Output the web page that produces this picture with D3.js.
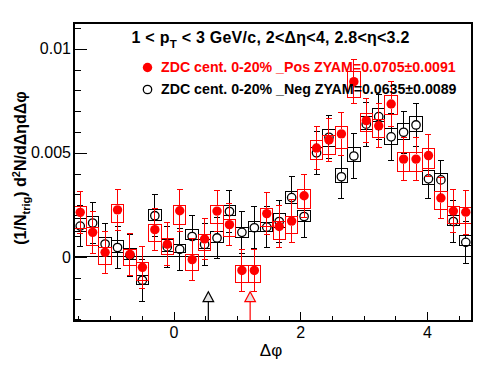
<!DOCTYPE html>
<html>
<head>
<meta charset="utf-8">
<script src="https://cdn.jsdelivr.net/npm/d3@7"></script>
<style>
  body { margin: 0; background: #fff; }
  svg { display: block; font-family: "Liberation Sans", Arial, Helvetica, sans-serif; }
</style>
</head>
<body>
<div id="chart"></div>
<script>
// 1: DATA
// delta-phi bin centres, 32 bins over [-pi/2, 3pi/2]
const dphi = [-1.4726, -1.2763, -1.0799, -0.8836, -0.6872, -0.4909, -0.2945, -0.0982,
              0.0982, 0.2945, 0.4909, 0.6872, 0.8836, 1.0799, 1.2763, 1.4726,
              1.6690, 1.8653, 2.0617, 2.2580, 2.4544, 2.6507, 2.8471, 3.0434,
              3.2398, 3.4361, 3.6325, 3.8288, 4.0252, 4.2215, 4.4179, 4.6142];

// ZDC 0-20% _Pos (red, filled)
const posVal = [0.00214, 0.00118, 0.00022, 0.00226, 0.00012, -0.00050, 0.00131, 0.00061,
                0.00222, -0.00013, 0.00086, 0.00220, 0.00155, -0.00065, -0.00065, 0.00208,
                0.00146, 0.00172, 0.00294, 0.00523, 0.00562, 0.00591, 0.00842, 0.00655,
                0.00630, 0.00735, 0.00470, 0.00470, 0.00487, 0.00283, 0.00220, 0.00215];
const posErr = [0.00102, 0.00100, 0.00100, 0.00100, 0.00102, 0.00100, 0.00100, 0.00104,
                0.00100, 0.00100, 0.00100, 0.00100, 0.00100, 0.00100, 0.00100, 0.00102,
                0.00102, 0.00103, 0.00103, 0.00105, 0.00105, 0.00105, 0.00106, 0.00105,
                0.00105, 0.00106, 0.00102, 0.00102, 0.00102, 0.00100, 0.00104, 0.00105];
const posSysUp = [0.00026, 0.00021, 0.00021, 0.00024, 0.00024, 0.00021, 0.00024, 0.00027,
                  0.00024, 0.00024, 0.00024, 0.00025, 0.00024, 0.00024, 0.00024, 0.00024,
                  0.00024, 0.00021, 0.00029, 0.00035, 0.00019, 0.00035, 0.00048, 0.00032,
                  0.00029, 0.00043, 0.00034, 0.00034, 0.00032, 0.00032, 0.00024, 0.00024];
const posSysDn = [0.00077, 0.00061, 0.00059, 0.00059, 0.00051, 0.00062, 0.00056, 0.00051,
                  0.00064, 0.00053, 0.00056, 0.00058, 0.00059, 0.00059, 0.00059, 0.00064,
                  0.00064, 0.00059, 0.00059, 0.00056, 0.00069, 0.00069, 0.00075, 0.00051,
                  0.00058, 0.00053, 0.00060, 0.00060, 0.00064, 0.00056, 0.00059, 0.00056];

// ZDC 0-20% _Neg (black, open)
const negVal = [0.00148, 0.00163, 0.00062, 0.00045, 0.00008, -0.00112, 0.00198, 0.00048,
                0.00036, 0.00098, 0.00060, 0.00091, 0.00218, 0.00118, 0.00140, 0.00143,
                0.00170, 0.00285, 0.00194, 0.00500, 0.00575, 0.00385, 0.00485, 0.00638,
                0.00674, 0.00577, 0.00599, 0.00634, 0.00375, 0.00370, 0.00170, 0.00070];
const negErr = [0.00100, 0.00100, 0.00100, 0.00100, 0.00100, 0.00100, 0.00100, 0.00100,
                0.00100, 0.00100, 0.00100, 0.00100, 0.00100, 0.00100, 0.00100, 0.00100,
                0.00102, 0.00102, 0.00102, 0.00104, 0.00104, 0.00104, 0.00106, 0.00106,
                0.00108, 0.00114, 0.00100, 0.00102, 0.00096, 0.00094, 0.00100, 0.00100];
const negSysUp = [0.00037, 0.00029, 0.00032, 0.00032, 0.00030, 0.00024, 0.00032, 0.00035,
                  0.00024, 0.00032, 0.00024, 0.00030, 0.00027, 0.00024, 0.00029, 0.00024,
                  0.00038, 0.00030, 0.00029, 0.00025, 0.00035, 0.00040, 0.00043, 0.00038,
                  0.00040, 0.00040, 0.00043, 0.00043, 0.00038, 0.00032, 0.00027, 0.00032];
const negSysDn = [0.00025, 0.00021, 0.00019, 0.00022, 0.00022, 0.00021, 0.00021, 0.00020,
                  0.00016, 0.00016, 0.00021, 0.00020, 0.00020, 0.00024, 0.00019, 0.00020,
                  0.00028, 0.00026, 0.00024, 0.00030, 0.00044, 0.00026, 0.00027, 0.00026,
                  0.00024, 0.00037, 0.00034, 0.00032, 0.00025, 0.00056, 0.00019, 0.00014];

// ZYAM minimum positions (arrows at the bottom)
const zyamPhi = [0.55, 1.21];          // Neg, Pos
const zyamColor = ["#000", "#ff0000"];

const legendNames = ["ZDC cent. 0-20% _Pos ZYAM=0.0705\u00b10.0091",
                     "ZDC cent. 0-20% _Neg ZYAM=0.0635\u00b10.0089"];

const xMajor = [0, 2, 4];
const xMinor = [-1.5, -1, -0.5, 0.5, 1, 1.5, 2.5, 3, 3.5, 4.5];
const yMajor = [0, 0.005, 0.01];
const yMinor = [-0.003, -0.002, -0.001, 0.001, 0.002, 0.003, 0.004,
                0.006, 0.007, 0.008, 0.009, 0.011];

// 2: LAYOUT
const margin = { top: 23, right: 24, bottom: 53, left: 74 };
const width = 496 - margin.left - margin.right;
const height = 374 - margin.top - margin.bottom;
const binWidth = Math.PI / 16;

const svgRoot = d3.select("#chart")
    .append("svg")
    .attr("width", 496)
    .attr("height", 374);

const svg = svgRoot.append("g")
    .attr("transform", `translate(${margin.left},${margin.top})`);

// 3: SCALES
const x = d3.scaleLinear().domain([-Math.PI / 2, 3 * Math.PI / 2]).range([0, width]);
const y = d3.scaleLinear().domain([-0.00308, 0.01124]).range([height, 0]);

// 4: AXES (ROOT style: ticks point inwards)
const xAxisMajor = svg.append("g")
    .attr("transform", `translate(0,${height})`)
    .call(d3.axisBottom(x).tickValues(xMajor).tickSizeInner(-9).tickSizeOuter(0)
        .tickPadding(6).tickFormat(d3.format("d")));
const xAxisMinor = svg.append("g")
    .attr("transform", `translate(0,${height})`)
    .call(d3.axisBottom(x).tickValues(xMinor).tickSizeInner(-4.7).tickSizeOuter(0).tickFormat(""));
const yAxisMajor = svg.append("g")
    .call(d3.axisLeft(y).tickValues(yMajor).tickSizeInner(-13).tickSizeOuter(0)
        .tickPadding(3).tickFormat(d => d === 0 ? "0" : String(d)));
const yAxisMinor = svg.append("g")
    .call(d3.axisLeft(y).tickValues(yMinor).tickSizeInner(-7).tickSizeOuter(0).tickFormat(""));

[xAxisMajor, xAxisMinor, yAxisMajor, yAxisMinor].forEach(a => {
    a.select(".domain").remove();
    a.selectAll("line").attr("stroke", "#000").attr("shape-rendering", "crispEdges");
    a.selectAll("text").attr("font-size", 16).attr("fill", "#000")
        .attr("font-family", "'Liberation Sans', Arial, sans-serif");
});

// zero line
svg.append("line")
    .attr("x1", 0).attr("x2", width)
    .attr("y1", y(0)).attr("y2", y(0))
    .attr("stroke", "#000").attr("shape-rendering", "crispEdges");

// 5: SERIES
function drawSeries(vals, errs, up, dn, color, filled) {
    const data = dphi.map((p, i) => ({ p, v: vals[i], e: errs[i], up: up[i], dn: dn[i] }));
    const g = svg.append("g");
    const r = filled ? 4.7 : 4.2;

    // systematic boxes
    g.selectAll("rect.sys").data(data).enter().append("rect")
        .attr("class", "sys")
        .attr("x", d => x(d.p - binWidth / 2))
        .attr("width", d => x(d.p + binWidth / 2) - x(d.p - binWidth / 2))
        .attr("y", d => y(d.v + d.up))
        .attr("height", d => y(d.v - d.dn) - y(d.v + d.up))
        .attr("fill", "none").attr("stroke", color).attr("stroke-width", 1)
        .attr("shape-rendering", "crispEdges");

    // statistical error bars (gap at the marker) with end caps
    const eb = g.selectAll("g.err").data(data).enter().append("g").attr("class", "err")
        .attr("stroke", color).attr("stroke-width", 1).attr("shape-rendering", "crispEdges");
    eb.append("line")
        .attr("x1", d => x(d.p)).attr("x2", d => x(d.p))
        .attr("y1", d => y(d.v + d.e)).attr("y2", d => y(d.v) - r);
    eb.append("line")
        .attr("x1", d => x(d.p)).attr("x2", d => x(d.p))
        .attr("y1", d => y(d.v) + r).attr("y2", d => y(d.v - d.e));
    eb.append("line")
        .attr("x1", d => x(d.p) - 3).attr("x2", d => x(d.p) + 3)
        .attr("y1", d => y(d.v + d.e)).attr("y2", d => y(d.v + d.e));
    eb.append("line")
        .attr("x1", d => x(d.p) - 3).attr("x2", d => x(d.p) + 3)
        .attr("y1", d => y(d.v - d.e)).attr("y2", d => y(d.v - d.e));

    // markers
    g.selectAll("circle").data(data).enter().append("circle")
        .attr("cx", d => x(d.p)).attr("cy", d => y(d.v)).attr("r", r)
        .attr("fill", filled ? color : "none")
        .attr("stroke", color).attr("stroke-width", filled ? 0 : 1.3);
}

drawSeries(negVal, negErr, negSysUp, negSysDn, "#000", false);
drawSeries(posVal, posErr, posSysUp, posSysDn, "#ff0000", true);

// ZYAM arrows
zyamPhi.forEach((p, i) => {
    const cx = x(p), yTop = y(-0.00167), yBase = y(-0.00215);
    svg.append("line")
        .attr("x1", cx).attr("x2", cx).attr("y1", yBase).attr("y2", height)
        .attr("stroke", zyamColor[i]).attr("stroke-width", 1.2);
    svg.append("path")
        .attr("d", `M${cx},${yTop} L${cx + 5.3},${yBase} L${cx - 5.3},${yBase} Z`)
        .attr("fill", "#e4e4e4").attr("stroke", zyamColor[i]).attr("stroke-width", 1.2);
});

// frame
svg.append("rect")
    .attr("x", 0).attr("y", 0).attr("width", width).attr("height", height)
    .attr("fill", "none").attr("stroke", "#000").attr("stroke-width", 1.2)
    .attr("shape-rendering", "crispEdges");

// 6: LABELS
// title
const title = svgRoot.append("text")
    .attr("x", 131.5).attr("y", 43.3)
    .attr("font-size", 16).attr("font-weight", "bold").attr("fill", "#000")
    .attr("letter-spacing", 0.25);
title.append("tspan").text("1 < p");
title.append("tspan").attr("dy", 4.5).attr("font-size", 11.5).text("T");
title.append("tspan").attr("dy", -4.5).text(" < 3 GeV/c, 2<\u0394\u03b7<4, 2.8<\u03b7<3.2");

// x title
svgRoot.append("text")
    .attr("x", margin.left + width / 2 - 2).attr("y", 356)
    .attr("text-anchor", "middle").attr("font-size", 17).attr("fill", "#000")
    .text("\u0394\u03c6");

// y title
const yt = svgRoot.append("text")
    .attr("transform", "translate(26,168) rotate(-90)")
    .attr("text-anchor", "middle")
    .attr("font-size", 16).attr("font-weight", "bold").attr("fill", "#000");
yt.append("tspan").text("(1/N");
yt.append("tspan").attr("dy", 4).attr("font-size", 11).text("trig");
yt.append("tspan").attr("dy", -4).text(") d");
yt.append("tspan").attr("dy", -6).attr("font-size", 11).text("2");
yt.append("tspan").attr("dy", 6).text("N/d\u0394\u03b7d\u0394\u03c6");

// legend
const legend = svgRoot.selectAll(".legend")
    .data(legendNames)
    .enter().append("g")
    .attr("class", "legend")
    .attr("transform", (d, i) => `translate(147.5,${67.5 + i * 22})`);
legend.append("circle")
    .attr("r", (d, i) => i === 0 ? 4.7 : 4.2)
    .attr("fill", (d, i) => i === 0 ? "#ff0000" : "none")
    .attr("stroke", (d, i) => i === 0 ? "none" : "#000")
    .attr("stroke-width", 1.3);
legend.append("text")
    .attr("x", 13.5).attr("y", 4.8)
    .attr("font-size", 14.2).attr("font-weight", "bold")
    .attr("fill", (d, i) => i === 0 ? "#ff0000" : "#000")
    .text(d => d);
</script>
</body>
</html>
